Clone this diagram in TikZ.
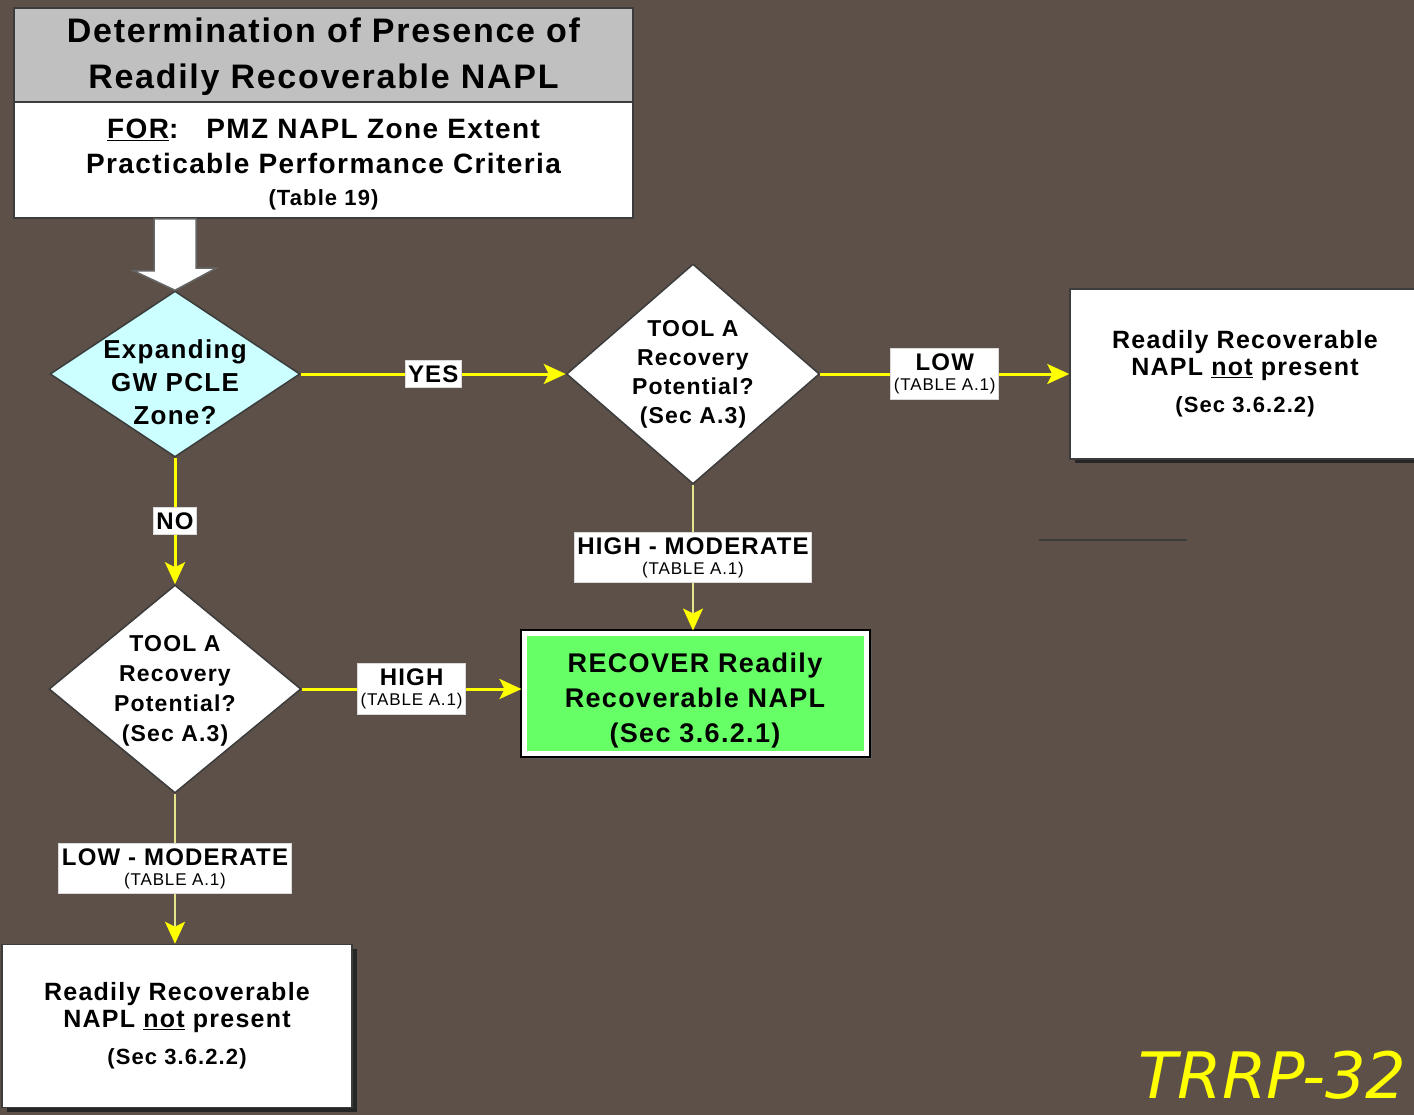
\documentclass[tikz,border=0pt]{standalone}
\usepackage{fontspec}
\setmainfont{Liberation Sans}[LetterSpace=5]
\newfontfamily\trrpfont{DejaVu Sans}
\usetikzlibrary{shapes.geometric, arrows.meta, shadows}
\definecolor{bgbrown}{RGB}{92, 80, 72}
\definecolor{titlegray}{RGB}{192, 192, 192}
\definecolor{paleblue}{RGB}{204, 255, 255}
\definecolor{recgreen}{RGB}{102, 255, 102}
\definecolor{flowyellow}{RGB}{255, 255, 0}
\definecolor{paleyellow}{RGB}{228, 228, 140}
\definecolor{edgegray}{RGB}{60, 60, 60}
\tikzset{
    header/.style={rectangle, draw=edgegray, fill=titlegray, line width=2pt, minimum width=619pt, minimum height=94pt, align=center, font=\fontsize{34}{46}\selectfont\bfseries},
    criteria/.style={rectangle, draw=edgegray, fill=white, line width=2pt, minimum width=619pt, minimum height=116pt, align=center, font=\fontsize{28}{35}\selectfont\bfseries},
    bigarrow/.style={fill=white, draw=black!60, line width=1.5pt},
    decision/.style={diamond, draw=edgegray, fill=white, line width=1.5pt, inner sep=0pt},
    dtext/.style={align=center, inner sep=0pt, text=black},
    result/.style={rectangle, draw=edgegray, fill=white, line width=1.5pt, align=center, font=\fontsize{25}{27}\selectfont\bfseries, drop shadow={shadow xshift=5pt, shadow yshift=-4pt, fill=black!85, opacity=1}},
    recover/.style={rectangle, fill=recgreen, draw=white, line width=5pt, minimum width=342pt, minimum height=120pt, align=center, font=\fontsize{27}{35}\selectfont\bfseries, drop shadow={shadow xshift=6pt, shadow yshift=-6pt, fill=black!65, opacity=1}, preaction={draw=black, line width=9pt}},
    tag/.style={rectangle, fill=white, draw=black!15, line width=1pt, align=center, inner xsep=3pt, inner ysep=5pt, text=black, font=\fontsize{24}{24}\selectfont\bfseries},
    arrow/.style={-{Stealth[length=22pt, width=20pt, inset=5pt, color=flowyellow]}, flowyellow, line width=3pt},
    paleline/.style={paleyellow, line width=2.5pt}
}

\begin{document}
\begin{tikzpicture}[x=1pt, y=-1pt]
    \fill [bgbrown] (0,0) rectangle (1414,1115);
    \useasboundingbox (0,0) rectangle (1414,1115);

    \node (title) [header] at (323.5,55) {\rule{0pt}{29pt}Determination of Presence of\\Readily Recoverable NAPL};
    \node (crit) [criteria] at (323.5,160) {\rule{0pt}{28pt}\underline{FOR}:\quad PMZ NAPL Zone Extent\\Practicable Performance Criteria\\[-3pt]{\fontsize{22}{26}\selectfont (Table 19)}};

    \node (expand) [decision, fill=paleblue, minimum width=250pt, minimum height=166pt,
        label={[dtext, yshift=-8pt, font=\fontsize{26}{33}\selectfont\bfseries]center:{Expanding\\GW PCLE\\Zone?}}] at (175,374) {};
    \node (toolup) [decision, minimum width=253pt, minimum height=220pt,
        label={[dtext, font=\fontsize{23}{29}\selectfont\bfseries]center:{TOOL A\\Recovery\\Potential?\\(Sec A.3)}}] at (693,374) {};
    \node (toollow) [decision, minimum width=252pt, minimum height=208pt,
        label={[dtext, yshift=-2pt, font=\fontsize{23}{30}\selectfont\bfseries]center:{TOOL A\\Recovery\\Potential?\\(Sec A.3)}}] at (175,689) {};

    \node (absentup) [result, minimum width=350pt, minimum height=170pt] at (1245,374) {Readily Recoverable\\NAPL \underline{not} present\\[10pt]{\fontsize{22}{26}\selectfont (Sec 3.6.2.2)}};
    \node (recover) [recover] at (695,693) {\rule{0pt}{34pt}RECOVER Readily\\Recoverable NAPL\\(Sec 3.6.2.1)};
    \node (absentlow) [result, minimum width=350pt, minimum height=163pt] at (177,1026) {Readily Recoverable\\NAPL \underline{not} present\\[10pt]{\fontsize{22}{26}\selectfont (Sec 3.6.2.2)}};

    % block arrow from the header
    \draw [bigarrow] ([xshift=-21pt]expand.north |- crit.south) -- ++(0,52) -- ++(-20,0) -- (expand.north) -- ++(41,-22) -- ++(-20,0) -- ([xshift=21pt]expand.north |- crit.south) -- cycle;

    \draw [arrow] (expand.east) -- node [tag] {YES} (toolup.west);
    \draw [arrow] (toolup.east) -- node [tag] {LOW\\[-4pt]{\fontsize{17}{18}\selectfont\mdseries (TABLE A.1)}} (absentup.west);
    \draw [arrow] (expand.south) -- node [tag] {NO} (toollow.north);
    \draw [arrow, paleline] (toolup.south) -- node [tag] {HIGH - MODERATE\\[-4pt]{\fontsize{17}{18}\selectfont\mdseries (TABLE A.1)}} (toolup.south |- recover.north);
    \draw [arrow] (toollow.east) -- node [tag] {HIGH\\[-4pt]{\fontsize{17}{18}\selectfont\mdseries (TABLE A.1)}} (toollow.east -| recover.west);
    \draw [arrow, paleline] (toollow.south) -- node [tag] {LOW - MODERATE\\[-4pt]{\fontsize{17}{18}\selectfont\mdseries (TABLE A.1)}} (toollow.south |- absentlow.north);

    \draw [edgegray, line width=1.5pt] (1039,540) -- (1187,540);

    \node (trrp) [anchor=base east, text=flowyellow, font=\trrpfont\itshape\fontsize{64}{70}\selectfont] at (1410,1098) {TRRP-32};
\end{tikzpicture}
\end{document}
